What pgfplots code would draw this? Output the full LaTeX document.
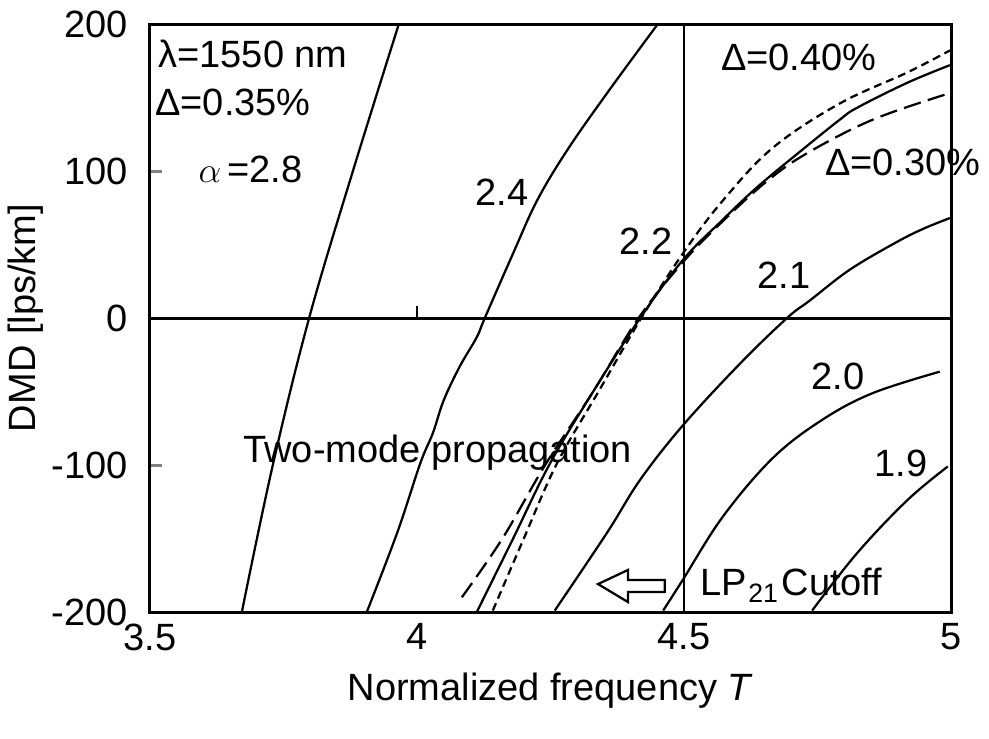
\documentclass[border=0pt]{standalone}
\usepackage{pgfplots}
\pgfplotsset{compat=1.18}
\usepackage{fontspec}
\setmainfont{Liberation Sans}
\newcommand{\lbl}{\fontsize{15.2}{18}\selectfont}
\begin{document}
\begin{tikzpicture}
\begin{axis}[
  scale only axis, width=320.4pt, height=235.2pt,
  xmin=3.5, xmax=5, ymin=-200, ymax=200,
  xtick={3.5,4,4.5,5}, ytick={-200,-100,0,100,200},
  xtick style={draw=none},
  ytick pos=left, tick align=inside, major tick length=4.8pt,
  ytick style={line width=1.2pt},
  axis line style={line width=1.2pt},
  clip=false,
  font=\lbl,
  /pgf/number format/assume math mode=true,
  ticklabel style={font=\lbl, inner sep=0pt},
  yticklabel style={xshift=-8.8pt},
  xticklabel style={yshift=-4.4pt},
  xlabel={Normalized frequency \textit{T}},
  xlabel style={at={(axis description cs:0.5,0)}, anchor=base, yshift=-35.2pt},
  ylabel={DMD [lps/km]},
  ylabel style={at={([xshift=-49.6pt]axis description cs:0,0.5)}, anchor=center},
  cycle list={{black, solid, no markers}},
  curve/.style={black, no markers, line width=0.9pt, smooth, tension=0.6},
]
% reference lines
\draw[line width=1.2pt] (axis cs:3.5,0) -- (axis cs:5,0);
\draw[line width=0.8pt] (axis cs:4.5,-200) -- (axis cs:4.5,200);
\draw[line width=1.0pt] (axis cs:4,0) -- ([yshift=4.8pt]axis cs:4,0);

% alpha = 2.8
\addplot[curve] coordinates {(3.672,-200) (3.730,-100) (3.798,0) (3.880,100) (3.966,200)};
% alpha = 2.4
\addplot[curve] coordinates {(3.906,-200) (3.963,-146) (4.006,-99) (4.030,-78) (4.050,-56)
  (4.080,-33) (4.112,-13) (4.127,0) (4.180,44) (4.225,80) (4.281,114) (4.356,153) (4.451,200)};
% alpha = 2.2, Delta = 0.35%
\addplot[curve] coordinates {(4.112,-200) (4.18,-150) (4.249,-99) (4.33,-50) (4.418,0)
  (4.498,39.5) (4.573,67) (4.637,89) (4.72,114) (4.792,135) (4.824,143) (4.918,160) (4.998,172)};
% Delta = 0.40%
\addplot[curve, dash pattern=on 3.2pt off 2pt] coordinates {(4.142,-199) (4.20,-150) (4.262,-99)
  (4.34,-50) (4.42,0) (4.498,44) (4.573,80) (4.667,116) (4.792,146) (4.918,167) (4.998,182)};
% Delta = 0.30%
\addplot[curve, dash pattern=on 7pt off 3pt] coordinates {(4.084,-190) (4.16,-150) (4.24,-100)
  (4.33,-50) (4.415,0) (4.498,38) (4.573,66) (4.655,93) (4.730,112) (4.854,135) (4.998,153)};
% alpha = 2.1
\addplot[curve] coordinates {(4.258,-199) (4.356,-146) (4.418,-110) (4.498,-73) (4.605,-31)
  (4.693,0) (4.736,12) (4.811,33) (4.90,52) (4.95,61) (4.998,68)};
% alpha = 2.0
\addplot[curve] coordinates {(4.461,-199) (4.498,-178) (4.573,-135) (4.667,-95) (4.760,-69)
  (4.854,-51) (4.979,-36.5)};
% alpha = 1.9
\addplot[curve] coordinates {(4.740,-199) (4.824,-160) (4.918,-124) (4.994,-101)};

% annotations
\node[anchor=base west, inner sep=0pt] at (axis cs:3.515,170.7) {λ=1550 nm};
\node[anchor=base west, inner sep=0pt] at (axis cs:3.509,138) {Δ=0.35\%};
\node[anchor=base west, inner sep=0pt] at (axis cs:3.590,92.5) {$\alpha$\,=2.8};
\node at (axis cs:4.159,85.7) {2.4};
\node at (axis cs:4.429,52.4) {2.2};
\node at (axis cs:4.687,29) {2.1};
\node at (axis cs:4.788,-40) {2.0};
\node at (axis cs:4.906,-98.6) {1.9};
\node at (axis cs:4.715,177) {Δ=0.40\%};
\node at (axis cs:4.910,106) {Δ=0.30\%};
\node[anchor=base west, inner sep=0pt] at (axis cs:3.674,-98) {Two-mode propagation};
\node[anchor=base west, inner sep=0pt] at (axis cs:4.530,-189) {LP\textsubscript{\kern0.5pt21}\kern1pt Cutoff};
\draw[line width=0.9pt, fill=white] (axis cs:4.339,-181) -- (axis cs:4.395,-171.4)
  -- (axis cs:4.395,-178.2) -- (axis cs:4.464,-178.2) -- (axis cs:4.464,-186.4)
  -- (axis cs:4.395,-186.4) -- (axis cs:4.395,-193.2) -- cycle;
\end{axis}
\pgfresetboundingbox
\path[use as bounding box] ([xshift=-60pt,yshift=-50.4pt]current axis.south west)
  rectangle ([xshift=15.2pt,yshift=9.6pt]current axis.north east);
\end{tikzpicture}
\end{document}
